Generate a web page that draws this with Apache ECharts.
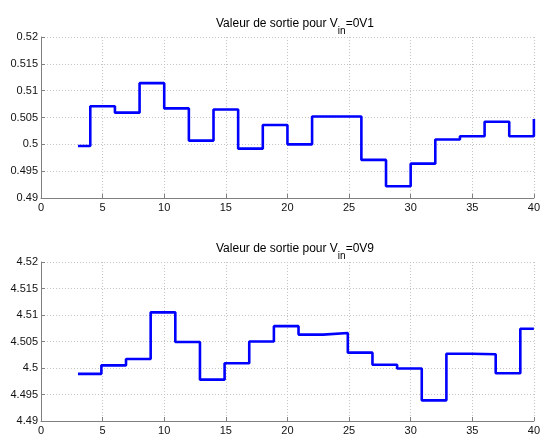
<!DOCTYPE html>
<html>
<head>
<meta charset="utf-8">
<script src="https://cdn.jsdelivr.net/npm/echarts@6/dist/echarts.min.js"></script>
<style>
    html, body { margin: 0; padding: 0; background: #fff; }
    #chart { width: 543px; height: 436px; }
</style>
</head>
<body>
<div id="chart"></div>
<script>
// données (sortie en escalier)
const xTop = [3, 4, 6, 8, 10, 12, 14, 16, 18, 20, 22, 26, 28, 30, 32, 34, 36, 38, 40];
const yTop = [0.4997, 0.5071, 0.5059, 0.5114, 0.5067, 0.5007, 0.5065, 0.4992, 0.5036, 0.5000,
    0.5052, 0.4971, 0.4922, 0.4964, 0.5009, 0.5015, 0.5042, 0.5015, 0.5047];

const xBottom = [3, 4.9, 6.9, 8.9, 10.9, 12.9, 14.9, 16.9, 18.9, 20.9, 22.9, 24.9, 26.9, 28.9,
    30.9, 32.9, 34.9, 36.9, 38.9, 40];
const yBottom = [4.4989, 4.5005, 4.5017, 4.5105, 4.5049, 4.4978, 4.5009, 4.5050, 4.5079, 4.5063,
    4.5066, 4.5029, 4.5006, 4.4999, 4.4939, 4.5027, 4.5026, 4.4990, 4.5074, 4.5074];

const titleTop = '{n|Valeur de sortie pour V}{sub|in}{n|=0V1}';
const titleBottom = '{n|Valeur de sortie pour V}{sub|in}{n|=0V9}';

const FONT = '"Liberation Sans", Arial, sans-serif';

function pairs(xs, ys) {
    return xs.map((x, i) => [x, ys[i]]);
}

function makeTitle(text, centerY) {
    return {
        text: text,
        left: 290,
        top: centerY - 10,
        textAlign: 'center',
        textStyle: {
            fontFamily: FONT,
            fontWeight: 'normal',
            rich: {
                n: { fontFamily: FONT, fontSize: 12, color: '#000', lineHeight: 20, verticalAlign: 'top', padding: [2, 0, 0, 0] },
                sub: { fontFamily: FONT, fontSize: 10, color: '#000', lineHeight: 20, verticalAlign: 'bottom' }
            }
        }
    };
}

function makeX(gridIndex) {
    return {
        type: 'value', gridIndex: gridIndex, min: 0, max: 40, interval: 5,
        axisLine: { onZero: false, lineStyle: { color: '#808080', width: 1 } },
        axisTick: { inside: true, length: 4, lineStyle: { color: '#808080' } },
        axisLabel: { fontFamily: FONT, fontSize: 11, color: '#111', margin: 4 },
        splitLine: { show: true, lineStyle: { type: [1, 2], color: '#c4c4c4' } }
    };
}

function makeY(gridIndex, min, max) {
    return {
        type: 'value', gridIndex: gridIndex, min: min, max: max, interval: 0.005,
        axisLine: { show: true, onZero: false, lineStyle: { color: '#808080', width: 1 } },
        axisTick: { show: true, inside: true, length: 4, lineStyle: { color: '#808080' } },
        axisLabel: { fontFamily: FONT, fontSize: 11, color: '#111', margin: 3 },
        splitLine: { show: true, lineStyle: { type: [1, 2], color: '#c4c4c4' } }
    };
}

function makeStep(index, xs, ys) {
    return {
        type: 'line', step: 'end', xAxisIndex: index, yAxisIndex: index,
        data: pairs(xs, ys), symbol: 'none', animation: false,
        lineStyle: { color: '#0000ff', width: 2.6 }
    };
}

const dom = document.getElementById('chart');
const chart = echarts.init(dom);

const option = {
    backgroundColor: '#fff',
    animation: false,
    title: [makeTitle(titleTop, 21), makeTitle(titleBottom, 246)],
    grid: [
        { left: 41, top: 37, width: 497, height: 161 },
        { left: 41, top: 262, width: 497, height: 161 }
    ],
    xAxis: [makeX(0), makeX(1)],
    yAxis: [makeY(0, 0.49, 0.52), makeY(1, 4.49, 4.52)],
    series: [makeStep(0, xTop, yTop), makeStep(1, xBottom, yBottom)]
};

chart.setOption(option);
</script>
</body>
</html>
